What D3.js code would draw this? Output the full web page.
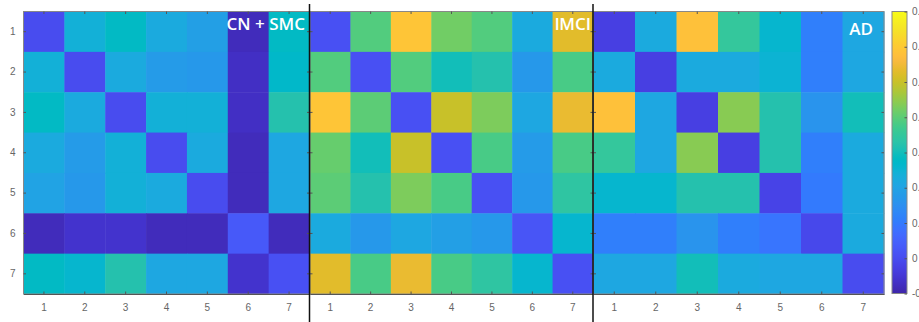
<!DOCTYPE html>
<html><head><meta charset="utf-8">
<script src="https://cdn.jsdelivr.net/npm/d3@7"></script>
<style>html,body{margin:0;padding:0;background:#fff;overflow:hidden}</style>
</head><body>
<svg id="chart" width="919" height="322"></svg>
<script>
const categories = ["1","2","3","4","5","6","7"];
const panelNames = ["CN + SMC", "lMCI", "AD"];
const cnSmc = [
  [0.00, 0.24, 0.28, 0.22, 0.19, -0.08, 0.28],
  [0.24, 0.00, 0.22, 0.18, 0.17, -0.07, 0.27],
  [0.28, 0.22, 0.00, 0.24, 0.24, -0.07, 0.32],
  [0.22, 0.18, 0.24, 0.00, 0.22, -0.08, 0.21],
  [0.20, 0.17, 0.24, 0.22, 0.00, -0.08, 0.21],
  [-0.08, -0.06, -0.06, -0.08, -0.08, 0.03, -0.08],
  [0.28, 0.26, 0.32, 0.21, 0.21, -0.06, 0.01]
];
const lmci = [
  [0.01, 0.39, 0.59, 0.42, 0.39, 0.22, 0.53],
  [0.39, 0.01, 0.39, 0.30, 0.32, 0.17, 0.38],
  [0.59, 0.40, 0.01, 0.50, 0.43, 0.21, 0.54],
  [0.41, 0.30, 0.50, 0.01, 0.38, 0.18, 0.38],
  [0.40, 0.32, 0.43, 0.38, 0.01, 0.17, 0.34],
  [0.22, 0.17, 0.21, 0.19, 0.17, 0.02, 0.26],
  [0.53, 0.38, 0.54, 0.38, 0.34, 0.26, 0.01]
];
const ad = [
  [-0.03, 0.22, 0.58, 0.35, 0.26, 0.11, 0.21],
  [0.22, -0.03, 0.22, 0.22, 0.25, 0.11, 0.21],
  [0.58, 0.21, -0.03, 0.44, 0.32, 0.16, 0.30],
  [0.35, 0.21, 0.44, -0.03, 0.32, 0.11, 0.22],
  [0.26, 0.26, 0.32, 0.32, -0.02, 0.10, 0.22],
  [0.11, 0.11, 0.16, 0.11, 0.09, -0.01, 0.22],
  [0.21, 0.21, 0.30, 0.22, 0.21, 0.21, 0.00]
];
const colorbarTicks = [-0.1, 0, 0.1, 0.2, 0.3, 0.4, 0.5, 0.6, 0.7];
const colorbarLabels = ["-0.1", "0", "0.1", "0.2", "0.3", "0.4", "0.5", "0.6", "0.7"];

const parula = [
[0.2422,0.1504,0.6603],[0.2504,0.1650,0.7076],[0.2578,0.1818,0.7511],[0.2647,0.1978,0.7952],
[0.2706,0.2147,0.8364],[0.2751,0.2342,0.8710],[0.2783,0.2559,0.8991],[0.2803,0.2782,0.9221],
[0.2813,0.3006,0.9414],[0.2810,0.3228,0.9579],[0.2795,0.3447,0.9717],[0.2760,0.3667,0.9829],
[0.2699,0.3892,0.9906],[0.2602,0.4123,0.9952],[0.2440,0.4358,0.9988],[0.2206,0.4603,0.9973],
[0.1963,0.4847,0.9892],[0.1834,0.5074,0.9798],[0.1786,0.5289,0.9682],[0.1764,0.5499,0.9520],
[0.1687,0.5703,0.9359],[0.1540,0.5902,0.9218],[0.1460,0.6091,0.9079],[0.1380,0.6276,0.8973],
[0.1248,0.6459,0.8883],[0.1113,0.6635,0.8763],[0.0952,0.6798,0.8598],[0.0689,0.6948,0.8394],
[0.0297,0.7082,0.8163],[0.0036,0.7203,0.7917],[0.0067,0.7312,0.7660],[0.0433,0.7411,0.7394],
[0.0964,0.7500,0.7120],[0.1408,0.7584,0.6842],[0.1717,0.7670,0.6554],[0.1938,0.7758,0.6251],
[0.2161,0.7843,0.5923],[0.2470,0.7918,0.5567],[0.2906,0.7973,0.5188],[0.3406,0.8008,0.4789],
[0.3909,0.8029,0.4354],[0.4456,0.8024,0.3909],[0.5044,0.7993,0.3480],[0.5616,0.7942,0.3045],
[0.6174,0.7876,0.2612],[0.6720,0.7793,0.2227],[0.7242,0.7698,0.1910],[0.7738,0.7598,0.1646],
[0.8203,0.7498,0.1535],[0.8634,0.7406,0.1596],[0.9035,0.7330,0.1774],[0.9393,0.7288,0.2100],
[0.9728,0.7298,0.2394],[0.9956,0.7434,0.2371],[0.9970,0.7659,0.2199],[0.9952,0.7893,0.2028],
[0.9892,0.8136,0.1885],[0.9786,0.8386,0.1766],[0.9676,0.8639,0.1643],[0.9610,0.8890,0.1537],
[0.9597,0.9135,0.1423],[0.9628,0.9373,0.1265],[0.9691,0.9606,0.1064],[0.9769,0.9839,0.0805]
].map(c => d3.rgb(c[0]*255, c[1]*255, c[2]*255).formatHex());

const interp = d3.piecewise(d3.interpolateRgb, parula);
const vmin = -0.1, vmax = 0.7;
const color = v => interp(Math.max(0, Math.min(1, (v - vmin) / (vmax - vmin))));

const svg = d3.select("#chart");
const top0 = 11.5, bottom0 = 294;
const panels = [
  {data: cnSmc, x0: 23.5, x1: 309.5, label: panelNames[0], lx: 305, ly: 30, yAxis: true},
  {data: lmci, x0: 310, x1: 593, label: panelNames[1], lx: 591, ly: 30, yAxis: false},
  {data: ad, x0: 593.5, x1: 884, label: panelNames[2], lx: 873, ly: 35, yAxis: false}
];
const tickColor = "#555";
const y = d3.scaleBand().domain(categories).range([top0, bottom0]);

panels.forEach(p => {
  const x = d3.scaleBand().domain(categories).range([p.x0, p.x1]);
  const g = svg.append("g");
  const cells = [];
  p.data.forEach((row, i) => row.forEach((v, j) => cells.push({r: categories[i], c: categories[j], v})));
  g.selectAll("rect.cell").data(cells).join("rect")
    .attr("class", "cell")
    .attr("x", d => x(d.c)).attr("y", d => y(d.r))
    .attr("width", x.bandwidth() + 0.5).attr("height", y.bandwidth() + 0.5)
    .attr("fill", d => color(d.v));
  // box
  g.append("rect").attr("x", p.x0).attr("y", top0).attr("width", p.x1 - p.x0).attr("height", bottom0 - top0)
    .attr("fill", "none").attr("stroke", "#888").attr("stroke-width", 1);
  // bottom axis
  const xb = g.append("g").attr("transform", `translate(0,${bottom0})`)
    .call(d3.axisBottom(x).tickSizeInner(-2.5).tickSizeOuter(0).tickPadding(10));
  xb.select(".domain").attr("stroke", "#555");
  xb.selectAll(".tick line").attr("stroke", tickColor);
  xb.selectAll("text").attr("fill", "#666").style("font", "10px 'Liberation Sans', Arial, sans-serif");
  // top ticks
  const xt = g.append("g").attr("transform", `translate(0,${top0})`)
    .call(d3.axisTop(x).tickSizeInner(-2.5).tickSizeOuter(0).tickFormat(""));
  xt.select(".domain").remove();
  xt.selectAll(".tick line").attr("stroke", tickColor);
  // left axis
  const yl = g.append("g").attr("transform", `translate(${p.x0},0)`)
    .call(d3.axisLeft(y).tickSizeInner(-2.5).tickSizeOuter(0).tickPadding(8).tickFormat(p.yAxis ? null : ""));
  yl.select(".domain").remove();
  yl.selectAll(".tick line").attr("stroke", tickColor);
  yl.selectAll("text").attr("fill", "#666").style("font", "10px 'Liberation Sans', Arial, sans-serif");
  // right ticks
  const yr = g.append("g").attr("transform", `translate(${p.x1},0)`)
    .call(d3.axisRight(y).tickSizeInner(-2.5).tickSizeOuter(0).tickFormat(""));
  yr.select(".domain").remove();
  yr.selectAll(".tick line").attr("stroke", tickColor);
  // label
  g.append("text").attr("x", p.lx).attr("y", p.ly).attr("text-anchor", "end")
    .attr("fill", "#fff").style("font", "600 17px 'Open Sans', sans-serif")
    .text(p.label);
});

// separators
[309.5, 593].forEach(sx => {
  svg.append("line").attr("x1", sx).attr("x2", sx).attr("y1", 4).attr("y2", 322)
    .attr("stroke", "#111").attr("stroke-width", 1.5);
});

// colorbar
const cbX = 892, cbW = 15;
const cbScale = d3.scaleLinear().domain([vmin, vmax]).range([293.5, 11.5]);
const defs = svg.append("defs");
const grad = defs.append("linearGradient").attr("id", "cbgrad")
  .attr("x1", 0).attr("y1", 1).attr("x2", 0).attr("y2", 0);
parula.forEach((c, i) => grad.append("stop").attr("offset", i / (parula.length - 1)).attr("stop-color", c));
svg.append("rect").attr("x", cbX).attr("y", cbScale(vmax)).attr("width", cbW)
  .attr("height", cbScale(vmin) - cbScale(vmax)).attr("fill", "url(#cbgrad)")
  .attr("stroke", "#888").attr("stroke-width", 1);
const cbAxis = svg.append("g").attr("transform", `translate(${cbX + cbW},0)`)
  .call(d3.axisRight(cbScale).tickValues(colorbarTicks).tickFormat((d, i) => colorbarLabels[i])
    .tickSizeInner(-2.5).tickSizeOuter(0).tickPadding(5));
cbAxis.select(".domain").remove();
cbAxis.selectAll(".tick line").attr("stroke", tickColor);
cbAxis.selectAll("text").attr("fill", "#666").style("font", "10px 'Liberation Sans', Arial, sans-serif");
</script>
</body></html>
